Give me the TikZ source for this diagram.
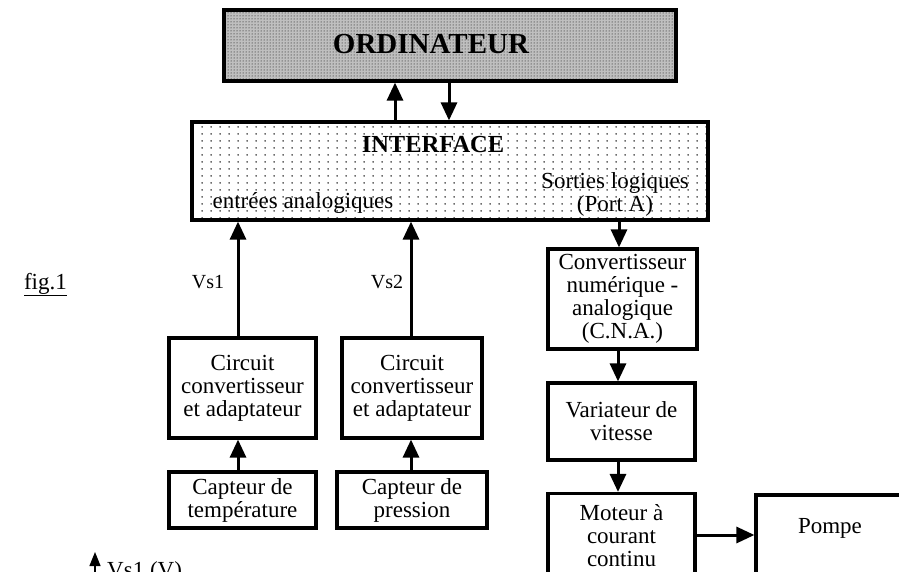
\documentclass[tikz,border=0pt]{standalone}
\usepackage{fontspec}
\setmainfont{Liberation Serif}
\usetikzlibrary{arrows.meta,patterns,patterns.meta}
\tikzdeclarepattern{name=sparsedots, type=uncolored,
  bottom left={(0pt,0pt)}, top right={(8.6pt,7pt)}, tile size={(8.6pt,7pt)},
  code={\fill (4.3pt,3.5pt) circle (0.85pt);}}
\tikzset{
  body/.style={font=\fontsize{23}{23}\selectfont},
  box/.style={draw, line width=3.2pt, fill=white, align=center, inner sep=0pt, body},
  arr/.style={line width=3pt, -{Triangle[width=16pt,length=18pt]}},
  axisarr/.style={line width=1.2pt, -{Triangle[width=11pt,length=14pt]}},
  title/.style={font=\bfseries\fontsize{29}{29}\selectfont},
  lbl/.style={body, align=center, inner sep=0pt},
}
\begin{document}
\begin{tikzpicture}[x=1pt,y=-1pt]
\fill[white] (0,0) rectangle (899,571);
\useasboundingbox (0,0) rectangle (899,571);
\clip (0,0) rectangle (899,571);

% computer and interface
\node[draw, line width=3.2pt, fill=black!25, postaction={pattern=dots},
      minimum width=452pt, minimum height=71pt, inner sep=0pt] (ord) at (450,45.5) {};
\node[title] (ordt) at (431,44) {ORDINATEUR};
\node[draw, line width=3.2pt, fill=white, postaction={pattern=sparsedots},
      minimum width=516pt, minimum height=98pt, inner sep=0pt] (if) at (450,171) {};
\node[title, font=\bfseries\fontsize{24.5}{24.5}\selectfont] (ift) at (433,145) {INTERFACE};
\node[lbl] (ent) at (303,203) {entrées analogiques};
\node[lbl] (sort) at (615,194) {Sorties logiques\\(Port A)};

% blocks
\node[box, minimum width=147pt, minimum height=100pt] (c1) at (242.5,388) {Circuit\\convertisseur\\et adaptateur};
\node[box, minimum width=140pt, minimum height=100pt] (c2) at (412,388) {Circuit\\convertisseur\\et adaptateur};
\node[box, minimum width=147pt, minimum height=56pt] (cap1) at (242.5,500) {Capteur de\\température};
\node[box, minimum width=150pt, minimum height=56pt] (cap2) at (412,500) {Capteur de\\pression};
\node[box, minimum width=149pt, minimum height=100pt] (cna) at (622.5,299) {Convertisseur\\numérique -\\analogique\\(C.N.A.)};
\node[box, minimum width=147pt, minimum height=77pt] (var) at (621.5,421.5) {Variateur de\\vitesse};
\node[box, minimum width=147pt, minimum height=85pt] (mot) at (621.5,536) {Moteur à\\courant\\continu};
\node[box, minimum width=148pt, minimum height=105pt] (pompe) at (830,547.5) {};
\node[lbl] (pompet) at (830,528) {Pompe};

% labels
\node[lbl, font=\fontsize{20}{20}\selectfont] (v1) at (208,282) {Vs1};
\node[lbl, font=\fontsize{20}{20}\selectfont] (v2) at (387,282) {Vs2};
\node[body, anchor=base east, inner sep=0pt] (fig) at (67,289) {\underline{fig.1}};

% x positions of connectors
\coordinate (xu) at (395,0);
\coordinate (xd) at (449,0);
\coordinate (x1) at (238,0);
\coordinate (x2) at (411,0);
\coordinate (x3) at (619,0);
\coordinate (x4) at (618,0);
\coordinate (y5) at (0,535);

\draw[arr] (if.north -| xu) -- (ord.south -| xu);
\draw[arr] (ord.south -| xd) -- (if.north -| xd);
\draw[arr] (c1.north -| x1) -- (if.south -| x1);
\draw[arr] (c2.north -| x2) -- (if.south -| x2);
\draw[arr] (cap1.north -| x1) -- (c1.south -| x1);
\draw[arr] (cap2.north -| x2) -- (c2.south -| x2);
\draw[arr] (if.south -| x3) -- (cna.north -| x3);
\draw[arr] (cna.south -| x4) -- (var.north -| x4);
\draw[arr] (var.south -| x4) -- (mot.north -| x4);
\draw[arr] (mot.east |- y5) -- (pompe.west |- y5);

% axis at bottom left
\coordinate (axb) at (95,620);
\coordinate (axt) at (95,552);
\draw[axisarr] (axb) -- (axt);
\node[body, anchor=base west, inner sep=0pt] (vsax) at (107,577) {Vs1 (V)};
\end{tikzpicture}
\end{document}
